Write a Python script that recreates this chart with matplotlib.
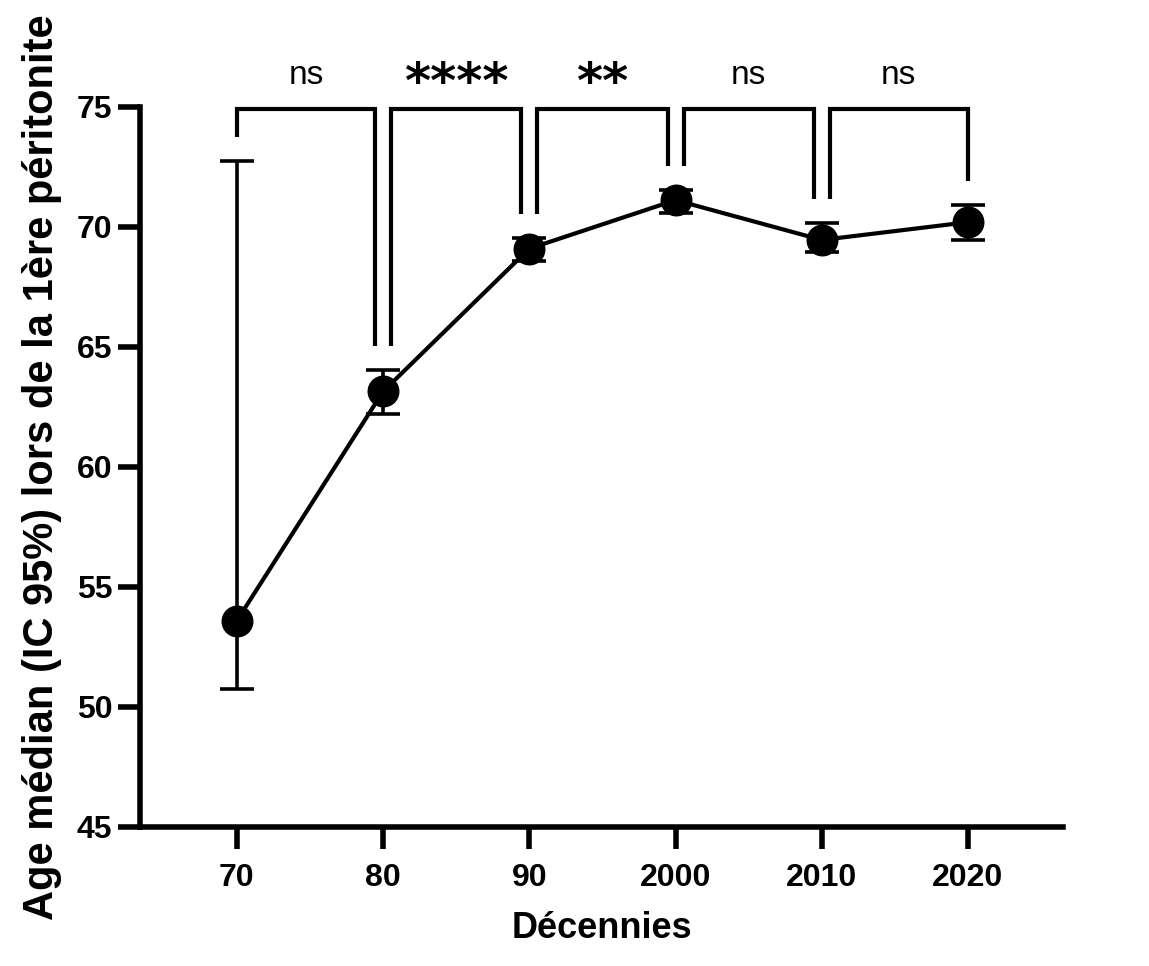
import matplotlib
matplotlib.use("Agg")
import matplotlib.pyplot as plt

decades = ["70", "80", "90", "2000", "2010", "2020"]
median_age = [53.6, 63.15, 69.1, 71.12, 69.46, 70.2]
ci_low = [50.75, 62.2, 68.6, 70.6, 68.96, 69.46]
ci_high = [72.75, 64.05, 69.55, 71.55, 70.17, 70.9]
comparisons = [(0, 1, "ns"), (1, 2, "****"), (2, 3, "**"), (3, 4, "ns"), (4, 5, "ns")]

plt.rcParams['font.family'] = ['Liberation Sans', 'DejaVu Sans']

W, H = 1149, 966
fig = plt.figure(figsize=(W / 100, H / 100), dpi=100)
ax = fig.add_axes([140 / W, 1 - 827 / H, (1063 - 140) / W, (827 - 107) / H])

x = list(range(len(decades)))
yerr = [[m - l for m, l in zip(median_age, ci_low)],
        [h - m for m, h in zip(median_age, ci_high)]]
ax.errorbar(x, median_age, yerr=yerr, fmt='o-', color='black', ms=22, lw=3,
            elinewidth=2.6, capsize=12, capthick=2.6, zorder=3, clip_on=False)

ax.set_xlim(-0.663, 5.65)
ax.set_ylim(45, 75)
ax.set_yticks([45, 50, 55, 60, 65, 70, 75])
ax.set_xticks(x)
ax.set_xticklabels(decades)

for s in ['top', 'right']:
    ax.spines[s].set_visible(False)
for s in ['left', 'bottom']:
    ax.spines[s].set_linewidth(4)
ax.tick_params(axis='both', length=16, width=4, labelsize=23)
ax.tick_params(axis='x', pad=10)
ax.tick_params(axis='y', pad=4)
for lab in ax.get_xticklabels() + ax.get_yticklabels():
    lab.set_fontweight('bold')

ax.set_ylabel("Age médian (IC 95%) lors de la 1ère péritonite", fontsize=30,
              fontweight='bold')
ax.yaxis.set_label_coords(-0.084, 0.5)
ax.set_xlabel("Décennies", fontsize=26, fontweight='bold', labelpad=13)

# significance brackets
top = 74.9
off = 0.055
for i, j, lab in comparisons:
    xl = i if i == 0 else i + off
    xr = j if j == len(decades) - 1 else j - off
    ax.plot([xl, xl, xr, xr], [ci_high[i] + 1.0, top, top, ci_high[j] + 1.0],
            color='black', lw=3, clip_on=False, solid_capstyle='butt',
            solid_joinstyle='miter', zorder=2)
    xm = (xl + xr) / 2
    if lab == "ns":
        ax.text(xm, 76.3, lab, ha='center', va='center', fontsize=24, clip_on=False)
    else:
        ax.text(xm, 75.95, lab, ha='center', va='center', fontsize=36,
                fontweight='bold', family='DejaVu Sans', clip_on=False)

fig.savefig("out.png", dpi=100)
